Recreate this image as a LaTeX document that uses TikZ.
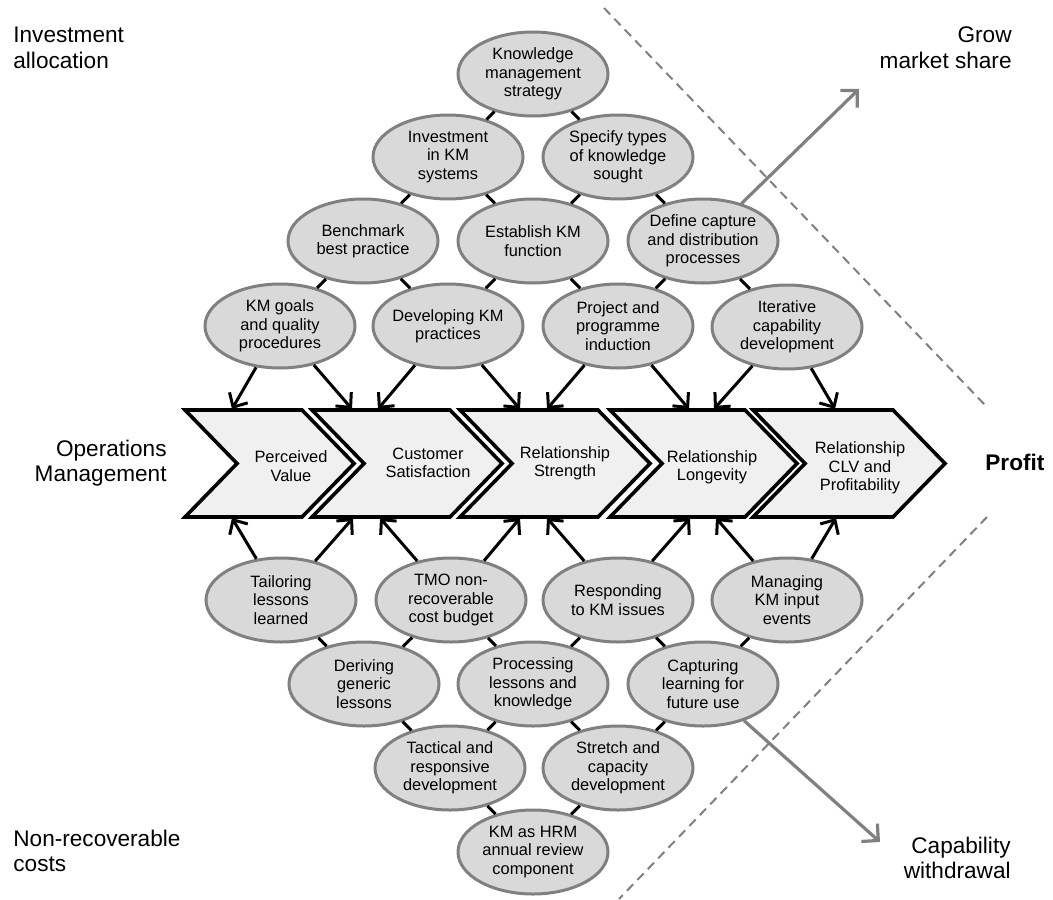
\documentclass[tikz,border=0pt]{standalone}
\usepackage{fontspec}
\setmainfont{Liberation Sans}
\usetikzlibrary{shapes.geometric,arrows.meta}

\begin{document}
\begin{tikzpicture}[x=0.5pt,y=-0.5pt,
  km/.style={ellipse,draw=black!50,fill=black!15,line width=1.5pt,
    minimum width=75pt,minimum height=42pt,inner xsep=-5pt,inner ysep=0pt,
    align=center,font=\fontsize{8.2}{9.2}\selectfont},
  chev/.style={draw=black,fill=black!6,line width=1.8pt,line join=miter},
  stage/.style={align=center,inner sep=0pt,font=\fontsize{8.2}{9.2}\selectfont},
  side/.style={inner sep=0pt,font=\fontsize{11.3}{12.8}\selectfont},
  link/.style={line width=1.5pt},
  feed/.style={line width=1.5pt,-{Straight Barb[length=5.5pt,width=10.5pt]}},
  exitarr/.style={draw=black!50,line width=1.6pt,-{Straight Barb[length=6pt,width=12pt]}},
  bound/.style={draw=black!50,line width=1pt,dash pattern=on 4.5pt off 3pt}]
\useasboundingbox (0,0) rectangle (1053,899);

% profit boundary
\coordinate (d1) at (604,8);
\coordinate (d2) at (985,405);
\coordinate (d3) at (987,517);
\coordinate (d4) at (619,899);
\draw[bound] (d1) -- (d2);
\draw[bound] (d3) -- (d4);

% value chain
\draw[chev] (185,410) -- (302,410) -- (354,463.5) -- (302,517) -- (185,517) -- (237,463.5) -- cycle;
\draw[chev] (312,410) -- (450,410) -- (502,463.5) -- (450,517) -- (312,517) -- (364,463.5) -- cycle;
\draw[chev] (460,410) -- (598,410) -- (650,463.5) -- (598,517) -- (460,517) -- (512,463.5) -- cycle;
\draw[chev] (610,410) -- (745,410) -- (797,463.5) -- (745,517) -- (610,517) -- (662,463.5) -- cycle;
\draw[chev] (753,410) -- (893,410) -- (945,463.5) -- (893,517) -- (753,517) -- (805,463.5) -- cycle;
\node[stage] (pv) at (291,466) {Perceived\\Value};
\node[stage] (cs) at (428,463) {Customer\\Satisfaction};
\node[stage] (rs) at (565,463) {Relationship\\Strength};
\node[stage] (rl) at (712,467) {Relationship\\Longevity};
\node[stage] (rp) at (860,468) {Relationship\\CLV and\\Profitability};

% investment side
\node[km] (kms) at (533,74) {Knowledge\\management\\strategy};
\node[km] (inv) at (448,157) {Investment\\in KM\\systems};
\node[km] (spec) at (618,157) {Specify types\\of knowledge\\sought};
\node[km] (bench) at (363,241) {Benchmark\\best practice};
\node[km] (estab) at (533,241) {Establish KM\\function};
\node[km] (define) at (703,241) {Define capture\\and distribution\\processes};
\node[km] (goals) at (280,326) {KM goals\\and quality\\procedures};
\node[km] (devel) at (448,326) {Developing KM\\practices};
\node[km] (induct) at (618,326) {Project and\\programme\\induction};
\node[km] (iter) at (787,327) {Iterative\\capability\\development};

% cost side
\node[km] (tailor) at (281,600) {Tailoring\\lessons\\learned};
\node[km] (tmo) at (451,600) {TMO non-\\recoverable\\cost budget};
\node[km] (respond) at (618,600) {Responding\\to KM issues};
\node[km] (manage) at (787,600) {Managing\\KM input\\events};
\node[km] (derive) at (364,684) {Deriving\\generic\\lessons};
\node[km] (process) at (533,684) {Processing\\lessons and\\knowledge};
\node[km] (capture) at (703,684) {Capturing\\learning for\\future use};
\node[km] (tactic) at (450,768) {Tactical and\\responsive\\development};
\node[km] (stretch) at (618,768) {Stretch and\\capacity\\development};
\node[km] (hrm) at (533,852) {KM as HRM\\annual review\\component};

\draw[link] (kms) -- (inv);
\draw[link] (kms) -- (spec);
\draw[link] (inv) -- (bench);
\draw[link] (inv) -- (estab);
\draw[link] (spec) -- (estab);
\draw[link] (spec) -- (define);
\draw[link] (bench) -- (goals);
\draw[link] (bench) -- (devel);
\draw[link] (estab) -- (devel);
\draw[link] (estab) -- (induct);
\draw[link] (define) -- (induct);
\draw[link] (define) -- (iter);
\draw[link] (tailor) -- (derive);
\draw[link] (tmo) -- (derive);
\draw[link] (tmo) -- (process);
\draw[link] (respond) -- (process);
\draw[link] (respond) -- (capture);
\draw[link] (manage) -- (capture);
\draw[link] (derive) -- (tactic);
\draw[link] (process) -- (tactic);
\draw[link] (process) -- (stretch);
\draw[link] (capture) -- (stretch);
\draw[link] (tactic) -- (hrm);
\draw[link] (stretch) -- (hrm);

% arrows into the chain
\coordinate (t1) at (232,409);
\coordinate (t2) at (352,409);
\coordinate (t3) at (378,409);
\coordinate (t4) at (520,409);
\coordinate (t5) at (547,409);
\coordinate (t6) at (689,409);
\coordinate (t7) at (714,409);
\coordinate (t8) at (835,409);
\coordinate (b1) at (232,518);
\coordinate (b2) at (353,518);
\coordinate (b3) at (380,518);
\coordinate (b4) at (520,518);
\coordinate (b5) at (547,518);
\coordinate (b6) at (690,518);
\coordinate (b7) at (716,518);
\coordinate (b8) at (836,518);
\draw[feed] (goals) -- (t1);
\draw[feed] (goals) -- (t2);
\draw[feed] (devel) -- (t3);
\draw[feed] (devel) -- (t4);
\draw[feed] (induct) -- (t5);
\draw[feed] (induct) -- (t6);
\draw[feed] (iter) -- (t7);
\draw[feed] (iter) -- (t8);
\draw[feed] (tailor) -- (b1);
\draw[feed] (tailor) -- (b2);
\draw[feed] (tmo) -- (b3);
\draw[feed] (tmo) -- (b4);
\draw[feed] (respond) -- (b5);
\draw[feed] (respond) -- (b6);
\draw[feed] (manage) -- (b7);
\draw[feed] (manage) -- (b8);

% outcomes
\coordinate (grow) at (859,89);
\coordinate (withdraw) at (880,842);
\draw[exitarr] (define) -- (grow);
\draw[exitarr] (capture) -- (withdraw);

% side labels
\node[side,align=left,anchor=west] (alloc) at (13,48) {Investment\\allocation};
\node[side,align=right,anchor=east] (share) at (1012,48) {Grow\\market share};
\node[side,align=right,anchor=east] (ops) at (167,463) {Operations\\Management};
\node[side,anchor=west,font=\fontsize{11.3}{12.8}\selectfont\bfseries] (profit) at (985,462) {Profit};
\node[side,align=left,anchor=west] (costs) at (13,851) {Non-recoverable\\costs};
\node[side,align=right,anchor=east] (wdraw) at (1011,858) {Capability\\withdrawal};
\end{tikzpicture}
\end{document}
